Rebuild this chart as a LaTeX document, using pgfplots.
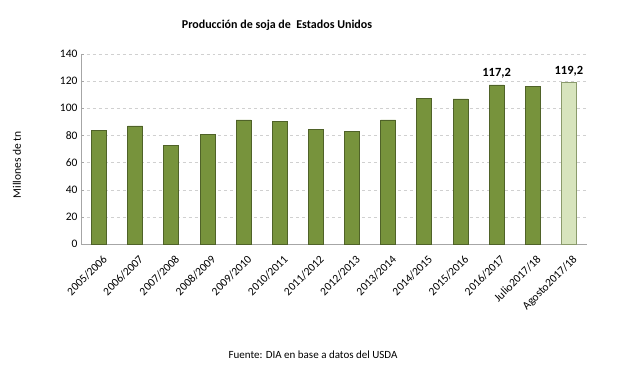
\documentclass[border=0pt]{standalone}
\usepackage{pgfplots}
\pgfplotsset{compat=1.18}
\usepackage{fontspec}
\setmainfont{Carlito}
\definecolor{barfill}{HTML}{77933C}
\definecolor{barline}{HTML}{4F6228}
\definecolor{lastfill}{HTML}{D7E4BD}
\definecolor{lastline}{HTML}{8A9A6B}
\definecolor{gridc}{HTML}{D0D0D0}
\definecolor{axisc}{HTML}{A6A6A6}
\begin{document}
\begin{tikzpicture}
\useasboundingbox (0,0) rectangle (628bp,371bp);
\begin{axis}[
  at={(81bp,127bp)}, anchor=south west,
  scale only axis, width=506bp, height=190bp,
  xmin=-0.5, xmax=13.5, ymin=0, ymax=140,
  ytick={0,20,...,140},
  xtick={0,...,13},
  xticklabels={2005/2006,2006/2007,2007/2008,2008/2009,2009/2010,2010/2011,2011/2012,2012/2013,2013/2014,2014/2015,2015/2016,2016/2017,Julio2017/18,Agosto2017/18},
  x tick label style={xshift=3bp, yshift=-10bp, rotate=45, anchor=north east, font=\fontsize{11.5bp}{13bp}\selectfont, inner sep=0pt},
  y tick label style={font=\fontsize{11.5bp}{13bp}\selectfont},
  /pgf/number format/assume math mode=true,
  axis x line*=bottom, axis y line*=left,
  axis line style={axisc},
  major tick length=3bp,
  xtick style={draw=none},
  ytick style={axisc},
  ymajorgrids, grid style={gridc, dashed},
  bar width=15bp,
  clip=false,
]
\addplot[ybar, fill=barfill, draw=barline, line width=0.8pt] coordinates {
(0,83.5) (1,87.0) (2,72.9) (3,80.8) (4,91.4) (5,90.6) (6,84.2) (7,82.8) (8,91.4) (9,107.0) (10,106.9) (11,117.2) (12,116.2)};
\addplot[ybar, fill=lastfill, draw=lastline, line width=0.8pt] coordinates {(13,119.2)};
\node[font=\bfseries\fontsize{12.5bp}{14bp}\selectfont, anchor=south] at (axis cs:11,117.2) [yshift=3bp] {117,2};
\node[font=\bfseries\fontsize{12.5bp}{14bp}\selectfont, anchor=south] at (axis cs:13,119.2) [yshift=3bp] {119,2};
\end{axis}
\node[rotate=90, font=\fontsize{11.5bp}{13bp}\selectfont] at (17bp,206bp) {Millones de tn};
\node[font=\bfseries\fontsize{12bp}{14bp}\selectfont] at (277bp,346bp) {Producción de soja de\ \ Estados Unidos};
\node[font=\fontsize{11bp}{13bp}\selectfont] at (313bp,16bp) {Fuente: DIA en base a datos del USDA};
\end{tikzpicture}
\end{document}
